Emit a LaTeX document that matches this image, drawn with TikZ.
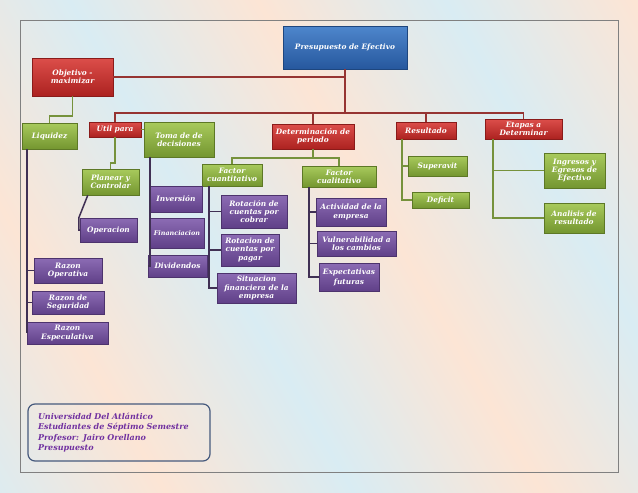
\documentclass[tikz,border=0pt]{standalone}
\usepackage{fontspec}
\setmainfont{DejaVu Serif}
\usetikzlibrary{shadows}

\definecolor{peach}{RGB}{252,229,213}
\definecolor{skyband}{RGB}{217,236,243}
\definecolor{redtop}{RGB}{220,78,74}
\definecolor{redbot}{RGB}{172,34,32}
\definecolor{greentop}{RGB}{168,202,92}
\definecolor{greenbot}{RGB}{116,150,48}
\definecolor{purptop}{RGB}{140,108,180}
\definecolor{purpbot}{RGB}{96,64,136}
\definecolor{bluetop}{RGB}{78,134,204}
\definecolor{bluebot}{RGB}{38,88,158}
\definecolor{redline}{RGB}{150,52,50}
\definecolor{greenline}{RGB}{118,146,60}
\definecolor{purpline}{RGB}{64,48,84}
\definecolor{foottext}{RGB}{112,48,160}
\definecolor{footframe}{RGB}{70,90,125}

\pgfdeclarehorizontalshading{bands}{100bp}{color(0bp)=(peach); color(14bp)=(skyband); color(28bp)=(peach); color(42bp)=(skyband); color(56bp)=(peach); color(70bp)=(skyband); color(84bp)=(peach); color(100bp)=(skyband)}

\begin{document}
\begin{tikzpicture}[x=1pt, y=-1pt,
    box/.style={rectangle, align=center, text=white, inner sep=1pt,
        font=\fontsize{7.4}{8.2}\selectfont\bfseries\itshape,
        drop shadow={opacity=0.35, shadow xshift=1pt, shadow yshift=-1.2pt}},
    redbox/.style={box, top color=redtop, bottom color=redbot, draw=redbot!80!black, thin},
    greenbox/.style={box, top color=greentop, bottom color=greenbot, draw=greenbot!80!black, thin},
    purpbox/.style={box, top color=purptop, bottom color=purpbot, draw=purpbot!80!black, thin},
    bluebox/.style={box, top color=bluetop, bottom color=bluebot, draw=bluebot!80!black, thin},
    redlink/.style={draw=redline, line width=1.5pt},
    greenlink/.style={draw=greenline, line width=1.5pt},
    purplink/.style={draw=purpline, line width=1.5pt}
    ]
\useasboundingbox (0,0) rectangle (638,493);
\shade[shading=bands, shading angle=30] (0,0) rectangle (638,493);
\draw[gray, line width=0.8pt] (20,20) rectangle (618,472);

% level 0 and 1
\node[bluebox, minimum width=124pt, minimum height=43pt] (P) at (345,47.5) {Presupuesto de Efectivo};
\node[redbox, minimum width=81pt, minimum height=38pt] (O) at (72.5,77) {Objetivo -\\maximizar};
\node[redbox, minimum width=52pt, minimum height=15pt] (U) at (115,129.5) {Util para};
\node[redbox, minimum width=82pt, minimum height=25pt] (D) at (313,136.5) {Determinación de\\periodo};
\node[redbox, minimum width=60pt, minimum height=17pt] (R) at (426,130.5) {Resultado};
\node[redbox, minimum width=77pt, minimum height=20pt] (E) at (523.5,129) {Etapas a\\Determinar};

% level 2
\node[greenbox, minimum width=55pt, minimum height=26pt] (L) at (49.5,136) {Liquidez};
\node[greenbox, minimum width=70pt, minimum height=35pt] (T) at (179,139.5) {Toma de de\\decisiones};
\node[greenbox, minimum width=57pt, minimum height=26pt] (PC) at (110.5,182) {Planear y\\Controlar};
\node[greenbox, minimum width=60pt, minimum height=22pt] (FN) at (232,175) {Factor\\cuantitativo};
\node[greenbox, minimum width=74pt, minimum height=21pt] (FL) at (339,176.5) {Factor\\cualitativo};
\node[greenbox, minimum width=59pt, minimum height=20pt] (S) at (437.5,166) {Superavit};
\node[greenbox, minimum width=57pt, minimum height=16pt] (DF) at (440.5,200) {Deficit};
\node[greenbox, minimum width=61pt, minimum height=35pt] (IE) at (574.5,170.5) {Ingresos y\\Egresos de\\Efectivo};
\node[greenbox, minimum width=60pt, minimum height=30pt] (AR) at (574,218) {Analisis de\\resultado};

% level 3
\node[purpbox, minimum width=57pt, minimum height=24pt] (OP) at (108.5,230) {Operacion};
\node[purpbox, minimum width=52pt, minimum height=26pt] (IN) at (176,199) {Inversión};
\node[purpbox, minimum width=54pt, minimum height=30pt, font=\fontsize{6.4}{7.4}\selectfont\bfseries\itshape] (FI) at (177,233) {Financiacion};
\node[purpbox, minimum width=59pt, minimum height=22pt] (DI) at (177.5,266) {Dividendos};
\node[purpbox, minimum width=66pt, minimum height=33pt] (RC) at (254,211.5) {Rotación de\\cuentas por\\cobrar};
\node[purpbox, minimum width=58pt, minimum height=32pt] (RP) at (250,250) {Rotacion de\\cuentas por\\pagar};
\node[purpbox, minimum width=79pt, minimum height=30pt] (SF) at (256.5,288) {Situacion\\financiera de la\\empresa};
\node[purpbox, minimum width=68pt, minimum height=25pt] (RO) at (68,270.5) {Razon\\Operativa};
\node[purpbox, minimum width=72pt, minimum height=23pt] (RS) at (68,302.5) {Razon de\\Seguridad};
\node[purpbox, minimum width=81pt, minimum height=22pt] (RE) at (67.5,333) {Razon\\Especulativa};
\node[purpbox, minimum width=70pt, minimum height=28pt] (AE) at (351,212) {Actividad de la\\empresa};
\node[purpbox, minimum width=79pt, minimum height=25pt] (VC) at (356.5,243.5) {Vulnerabilidad a\\los cambios};
\node[purpbox, minimum width=60pt, minimum height=28pt] (EF) at (349,277) {Expectativas\\[2pt]futuras};

\node[draw=footframe, line width=1.2pt, rounded corners=7pt, minimum width=182pt, minimum height=57pt,
    inner xsep=10pt, text width=162pt, align=left, text=foottext,
    font=\fontsize{8}{10.4}\selectfont\bfseries\itshape] (info) at (119,432.5)
    {Universidad Del Atlántico\\Estudiantes de Séptimo Semestre\\Profesor: Jairo Orellano\\Presupuesto};

% red links
\coordinate (bus) at (345,113);
\draw[redlink] (P.south) -- (bus);
\draw[redlink] (U.north) |- (bus) -| (E.north);
\draw[redlink] (D.north) |- (bus);
\draw[redlink] (R.north) |- (bus);
\draw[redlink] (O.east) -- (O.east -| P.south);

% green links
\draw[greenlink] (O.south) -- ++(0,20) -| (L.north);
\draw[greenlink] (U.south) -- ++(0,26) -| (PC.north);
\draw[greenlink] (U.east) -- (U.east -| T.west);
\draw[greenlink] (D.south) -- ++(0,9) coordinate (D1);
\draw[greenlink] (FN.north) |- (D1) -| (FL.north);
\draw[greenlink] ([xshift=6pt]R.south west) |- (S.west);
\draw[greenlink] ([xshift=6pt]R.south west) |- (DF.west);
\draw[greenlink] ([xshift=8pt]E.south west) |- (IE.west);
\draw[greenlink] ([xshift=8pt]E.south west) |- (AR.west);

% purple links
\draw[purplink] ([xshift=5pt]L.south west) |- (RO.west);
\draw[purplink] ([xshift=5pt]L.south west) |- (RS.west);
\draw[purplink] ([xshift=5pt]L.south west) |- (RE.west);
\draw[purplink] ([xshift=6pt]PC.south west) -- ([xshift=-1pt]OP.north west) -- ([xshift=-1pt]OP.west) -- (OP.west);
\draw[purplink] ([xshift=6pt]T.south west) |- (IN.west);
\draw[purplink] ([xshift=6pt]T.south west) |- (FI.west);
\draw[purplink] ([xshift=6pt]T.south west) |- (DI.west);
\draw[purplink] ([xshift=7pt]FN.south west) |- (RC.west);
\draw[purplink] ([xshift=7pt]FN.south west) |- (RP.west);
\draw[purplink] ([xshift=7pt]FN.south west) |- (SF.west);
\draw[purplink] ([xshift=7pt]FL.south west) |- (AE.west);
\draw[purplink] ([xshift=7pt]FL.south west) |- (VC.west);
\draw[purplink] ([xshift=7pt]FL.south west) |- (EF.west);
\end{tikzpicture}
\end{document}
